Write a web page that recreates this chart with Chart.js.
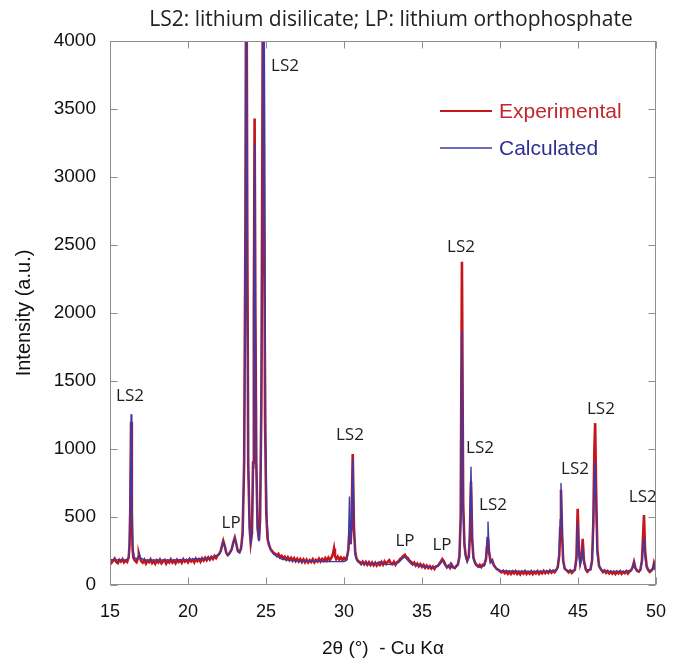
<!DOCTYPE html>
<html><head><meta charset="utf-8">
<script src="https://cdn.jsdelivr.net/npm/chart.js@4"></script>
<style>html,body{margin:0;padding:0;background:#fff}canvas{display:block}</style>
</head><body>
<canvas id="c" width="680" height="658"></canvas>
<script>
const chartTitle = 'LS2: lithium disilicate; LP: lithium orthophosphate';
const xTitle = '2\u03b8 (\u00b0)  - Cu K\u03b1';
const yTitle = 'Intensity (a.u.)';
const seriesNames = ['Experimental', 'Calculated'];
const xTicks = [15, 20, 25, 30, 35, 40, 45, 50];
const yTicks = [0, 500, 1000, 1500, 2000, 2500, 3000, 3500, 4000];

// [2theta, intensity]
const experimental = [
[15.0,182],[15.1,164],[15.2,178],[15.3,194],[15.4,170],[15.5,160],[15.6,185],[15.7,172],[15.8,190],[15.9,166],[16.0,180],[16.1,170],
[16.2,205],[16.25,290],[16.3,560],[16.35,1200],[16.4,540],[16.45,260],[16.5,200],[16.6,178],[16.7,168],[16.8,202],[16.85,228],[16.9,205],
[17.0,176],[17.1,164],[17.2,184],[17.3,158],[17.4,178],[17.5,168],[17.6,188],[17.7,162],[17.8,176],[17.9,156],[18.0,180],[18.1,166],
[18.2,186],[18.3,160],[18.4,174],[18.5,184],[18.6,158],[18.7,178],[18.8,166],[18.9,188],[19.0,164],[19.1,178],[19.2,160],[19.3,185],
[19.4,170],[19.5,182],[19.6,164],[19.7,190],[19.8,172],[19.9,184],[20.0,167],[20.1,191],[20.2,174],[20.3,186],[20.4,166],[20.5,193],
[20.6,176],[20.7,190],[20.8,171],[20.9,196],[21.0,180],[21.1,200],[21.2,182],[21.3,203],[21.4,187],[21.5,207],[21.6,191],[21.7,214],
[21.8,198],[21.9,218],[22.0,228],[22.1,252],[22.2,300],[22.26,325],[22.35,290],[22.45,238],[22.55,220],[22.65,232],[22.8,262],[22.9,312],
[23.0,348],[23.1,300],[23.2,248],[23.3,240],[23.4,268],[23.5,380],[23.6,900],[23.68,2600],[23.74,5200],[23.8,2600],[23.86,900],[23.95,420],
[24.02,310],[24.1,380],[24.17,900],[24.22,2000],[24.27,3430],[24.32,2000],[24.38,900],[24.46,420],[24.55,330],[24.62,480],[24.7,1300],
[24.76,3000],[24.82,5500],[24.88,3000],[24.94,1200],[25.02,520],[25.1,340],[25.2,292],[25.3,262],[25.4,250],[25.5,234],[25.6,230],
[25.7,214],[25.8,228],[25.9,204],[26.0,215],[26.1,195],[26.2,208],[26.3,187],[26.4,204],[26.5,183],[26.6,200],[26.7,179],[26.8,197],
[26.9,175],[27.0,193],[27.1,173],[27.2,191],[27.3,169],[27.4,188],[27.5,167],[27.6,186],[27.7,165],[27.8,183],[27.9,169],[28.0,189],
[28.1,167],[28.2,185],[28.3,172],[28.4,193],[28.5,173],[28.6,191],[28.7,177],[28.8,198],[28.9,179],[29.0,201],[29.1,183],[29.2,203],
[29.3,232],[29.36,268],[29.42,215],[29.5,190],[29.6,208],[29.7,186],[29.8,203],[29.9,183],[30.0,199],[30.1,186],[30.2,212],[30.28,260],
[30.35,400],[30.42,300],[30.48,420],[30.56,963],[30.64,420],[30.72,240],[30.8,195],[30.9,176],[31.0,170],[31.1,155],[31.2,172],[31.3,152],
[31.4,169],[31.5,149],[31.6,167],[31.7,147],[31.8,165],[31.9,145],[32.0,163],[32.1,143],[32.2,161],[32.3,147],[32.4,169],[32.5,149],
[32.6,173],[32.7,155],[32.8,171],[32.9,182],[33.0,159],[33.1,152],[33.2,171],[33.3,149],[33.4,168],[33.5,175],[33.6,192],[33.7,200],
[33.8,214],[33.9,222],[34.0,205],[34.1,198],[34.2,178],[34.3,172],[34.4,152],[34.5,165],[34.6,143],[34.7,158],[34.8,137],[34.9,153],
[35.0,133],[35.1,148],[35.2,127],[35.3,143],[35.4,125],[35.5,139],[35.6,121],[35.7,135],[35.8,119],[35.9,137],[36.0,140],[36.1,154],
[36.2,170],[36.3,190],[36.4,175],[36.5,150],[36.6,130],[36.7,142],[36.8,126],[36.9,150],[37.0,130],[37.1,124],[37.2,140],[37.3,150],
[37.4,210],[37.48,500],[37.56,2377],[37.64,600],[37.72,300],[37.8,220],[37.9,180],[38.0,210],[38.06,340],[38.14,760],[38.22,330],
[38.3,200],[38.4,165],[38.5,148],[38.6,135],[38.7,148],[38.8,132],[38.9,150],[39.0,152],[39.1,190],[39.17,280],[39.23,345],[39.3,240],
[39.4,170],[39.5,182],[39.6,148],[39.7,130],[39.8,116],[39.9,111],[40.0,102],[40.1,93],[40.2,104],[40.3,87],[40.4,100],[40.5,83],
[40.6,97],[40.7,81],[40.8,99],[40.9,85],[41.0,102],[41.1,82],[41.2,96],[41.3,79],[41.4,98],[41.5,84],[41.6,101],[41.7,81],[41.8,95],
[41.9,83],[42.0,100],[42.1,80],[42.2,97],[42.3,85],[42.4,102],[42.5,82],[42.6,99],[42.7,86],[42.8,104],[42.9,87],[43.0,101],[43.1,89],
[43.2,106],[43.3,91],[43.4,104],[43.5,93],[43.6,110],[43.7,130],[43.8,220],[43.86,420],[43.91,700],[43.98,380],[44.05,180],[44.15,120],
[44.3,106],[44.4,93],[44.5,106],[44.6,89],[44.7,102],[44.8,112],[44.9,200],[44.98,560],[45.06,250],[45.14,160],[45.22,200],[45.3,340],
[45.38,180],[45.5,115],[45.6,98],[45.7,110],[45.8,115],[45.9,180],[45.98,450],[46.05,1000],[46.1,1190],[46.16,700],[46.24,260],[46.35,140],
[46.5,110],[46.6,95],[46.7,106],[46.8,89],[46.9,102],[47.0,85],[47.1,99],[47.2,83],[47.3,97],[47.4,81],[47.5,98],[47.6,85],[47.7,101],
[47.8,83],[47.9,97],[48.0,87],[48.1,102],[48.2,85],[48.3,100],[48.4,108],[48.5,130],[48.59,170],[48.68,125],[48.8,103],[48.9,98],
[49.0,112],[49.1,180],[49.16,330],[49.23,515],[49.3,250],[49.4,140],[49.5,110],[49.6,96],[49.7,106],[49.8,120],[49.87,160],[49.95,125],[50.0,108]
];

const calculated = [
[15.0,186],[16.0,184],[16.2,200],[16.25,300],[16.3,650],[16.35,1255],[16.4,620],[16.45,290],[16.55,205],[16.7,188],[16.8,205],[16.87,232],
[16.95,200],[17.2,184],[18.0,184],[19.0,185],[20.0,188],[21.0,195],[21.6,205],[22.0,225],[22.1,250],[22.2,295],[22.26,318],[22.35,285],
[22.45,238],[22.55,220],[22.65,228],[22.8,258],[22.9,305],[23.0,340],[23.1,295],[23.2,248],[23.3,238],[23.4,262],[23.5,370],[23.6,880],
[23.68,2500],[23.73,5000],[23.79,2500],[23.86,880],[23.95,410],[24.02,305],[24.1,370],[24.17,860],[24.22,1900],[24.27,3250],[24.32,1900],
[24.38,860],[24.46,410],[24.55,320],[24.62,470],[24.7,1200],[24.78,2900],[24.85,5400],[24.92,2800],[24.98,1100],[25.05,500],[25.15,320],
[25.3,255],[25.5,225],[25.8,205],[26.0,190],[26.5,182],[27.0,178],[28.0,175],[29.0,172],[29.5,172],[30.0,172],[30.2,185],[30.28,290],
[30.35,650],[30.42,300],[30.48,440],[30.56,930],[30.64,420],[30.72,220],[30.85,175],[31.0,160],[32.0,155],[32.3,170],[32.5,155],[33.0,150],
[33.5,165],[33.8,200],[33.9,205],[34.1,180],[34.3,155],[35.0,138],[35.5,130],[36.0,135],[36.2,160],[36.3,180],[36.45,150],[36.6,128],
[36.75,135],[36.82,160],[36.9,130],[37.1,125],[37.3,145],[37.4,200],[37.48,480],[37.56,1875],[37.64,560],[37.72,280],[37.8,200],[37.9,170],
[38.0,200],[38.06,380],[38.14,870],[38.22,360],[38.3,190],[38.45,145],[38.7,130],[39.0,140],[39.1,200],[39.17,350],[39.23,466],[39.3,260],
[39.4,165],[39.5,178],[39.6,140],[39.8,118],[40.0,106],[41.0,102],[42.0,100],[43.0,100],[43.6,110],[43.7,135],[43.8,240],[43.86,480],
[43.91,750],[43.98,400],[44.05,180],[44.15,120],[44.3,105],[44.8,108],[44.9,180],[44.98,455],[45.06,220],[45.14,150],[45.22,180],[45.3,280],
[45.38,160],[45.5,112],[45.8,112],[45.9,170],[45.98,400],[46.05,800],[46.1,905],[46.16,560],[46.24,230],[46.35,135],[46.5,108],[47.0,100],
[48.0,100],[48.4,108],[48.5,128],[48.59,165],[48.68,120],[48.8,104],[49.0,110],[49.1,170],[49.16,260],[49.23,350],[49.3,200],[49.4,125],
[49.6,105],[49.8,118],[49.87,155],[49.95,120],[50.0,108]
];

const peakLabels = ['LS2','LP','LS2','LS2','LP','LP','LS2','LS2','LS2','LS2','LS2','LS2'];
const peakLabelTheta = [16.28, 22.76, 26.22, 30.38, 33.91, 36.28, 37.5, 38.72, 39.55, 44.81, 46.47, 49.15];
const peakLabelIntensity = [1390, 456, 3816, 1103, 324, 294, 2485, 1007, 588, 850, 1292, 645];

const RED = '#c4161c', BLUE = '#3c3ca8';
const RED_TEXT = '#c1272d', BLUE_TEXT = '#2e3192';

const overlay = {
  id: 'overlay',
  afterDatasetsDraw(chart) {
    const {ctx, chartArea: a, scales: {x, y}} = chart;
    ctx.save();
    ctx.strokeStyle = '#8e8e8e';
    ctx.lineWidth = 1;
    const L = Math.round(a.left) + 0.5, R = Math.round(a.right) - 0.5;
    const T = Math.round(a.top) + 0.5, B = Math.round(a.bottom) - 0.5;
    ctx.strokeRect(L, T, R - L, B - T);
    ctx.beginPath();
    const tl = 7;
    xTicks.forEach(v => {
      const px = Math.round(x.getPixelForValue(v)) + 0.5;
      ctx.moveTo(px, B); ctx.lineTo(px, B - tl);
      ctx.moveTo(px, T); ctx.lineTo(px, T + tl);
    });
    yTicks.forEach(v => {
      const py = Math.round(y.getPixelForValue(v)) + 0.5;
      ctx.moveTo(L, py); ctx.lineTo(L + tl, py);
      ctx.moveTo(R, py); ctx.lineTo(R - tl, py);
    });
    ctx.stroke();
    ctx.fillStyle = '#1e1e1e';
    ctx.font = '17px "Open Sans"';
    ctx.textAlign = 'center';
    ctx.textBaseline = 'middle';
    peakLabels.forEach((t, i) => {
      ctx.fillText(t, x.getPixelForValue(peakLabelTheta[i]), y.getPixelForValue(peakLabelIntensity[i]));
    });
    ctx.fillStyle = '#222';
    ctx.font = '21px "Open Sans"';
    ctx.fillText(chartTitle, 391, 20);
    ctx.textAlign = 'left';
    ctx.font = '21px "Liberation Sans"';
    const items = [{c: RED, t: RED_TEXT, w: 2, y: 111}, {c: BLUE, t: BLUE_TEXT, w: 1.5, y: 148}];
    chart.data.datasets.forEach((ds, i) => {
      const it = items[i];
      ctx.strokeStyle = it.c; ctx.lineWidth = it.w;
      ctx.beginPath(); ctx.moveTo(440, it.y); ctx.lineTo(492, it.y); ctx.stroke();
      ctx.fillStyle = it.t;
      ctx.fillText(ds.label, 499, it.y + 1);
    });
    ctx.restore();
  }
};

new Chart(document.getElementById('c'), {
  type: 'line',
  data: {
    datasets: [
      {label: seriesNames[0], data: experimental.map(p => ({x: p[0], y: p[1]})), borderColor: RED, borderWidth: 2.6, pointRadius: 0, tension: 0, order: 2},
      {label: seriesNames[1], data: calculated.map(p => ({x: p[0], y: p[1]})), borderColor: BLUE, borderWidth: 1.4, pointRadius: 0, tension: 0, order: 1}
    ]
  },
  options: {
    responsive: false,
    animation: false,
    devicePixelRatio: 1,
    layout: {padding: {left: 0, right: 24, top: 41, bottom: 0}},
    plugins: {legend: {display: false}, tooltip: {enabled: false}, title: {display: false}},
    scales: {
      x: {
        type: 'linear', min: 15, max: 50,
        afterBuildTicks: s => { s.ticks = xTicks.map(v => ({value: v})); },
        afterFit: s => { s.height = 73; },
        grid: {display: false, drawTicks: true, tickLength: 14},
        border: {display: false},
        ticks: {color: '#111', font: {family: 'Liberation Sans', size: 18}, padding: 2, maxRotation: 0, callback: v => String(v)},
        title: {display: true, text: xTitle, color: '#111', font: {family: 'Liberation Sans', size: 19}, padding: {top: 0, bottom: -2}}
      },
      y: {
        type: 'linear', min: 0, max: 4000,
        afterBuildTicks: s => { s.ticks = yTicks.map(v => ({value: v})); },
        afterFit: s => { s.width = 110; },
        grid: {display: false, drawTicks: false},
        border: {display: false},
        ticks: {color: '#111', font: {family: 'Liberation Sans', size: 19}, padding: 14, callback: v => String(v)},
        title: {display: true, text: yTitle, color: '#111', font: {family: 'Liberation Sans', size: 20}, padding: {top: 12, bottom: 0}}
      }
    }
  },
  plugins: [overlay]
});
</script>
</body></html>
